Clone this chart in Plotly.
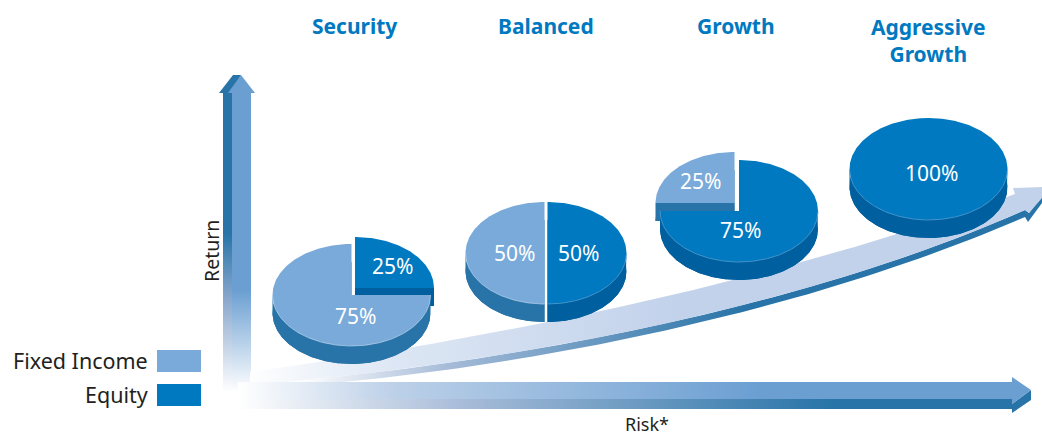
import numpy as np
import plotly.graph_objects as go

# ---- chart values ----
portfolios = ["Security", "Balanced", "Growth", "Aggressive<br>Growth"]
equity_share = [25, 50, 75, 100]
fixed_share = [75, 50, 25, 0]
series_names = ["Fixed Income", "Equity"]
axis_names = ["Risk*", "Return"]

# ---- layout (pixel-like axes) ----
W, H = 1042, 437
pie_centers = [(351.5, 295), (546, 253), (739, 211), (928.5, 169)]
title_x = [354, 546, 736, 927.5]
title_y = [26, 26, 26, 40]
RX, RY, DEPTH = 79, 51, 18
equity_offset = [(3.5, -7), (1.5, 0), (0, 0), (0, 0)]
fixed_offset = [(0, 0), (-1.5, 0), (-4.5, -8), (0, 0)]
FONT = "Noto Sans"
C_FIXED, C_FIXED_SIDE = "#7aaad9", "#2874a8"
C_EQ, C_EQ_SIDE = "#0079c1", "#005f9e"
INK = "#231f20"
BLUE_TITLE = "#0079c1"
SHAFT = "#6b9fd2"

fig = go.Figure()


def poly(xs, ys, color=None, grad=None):
    kw = dict(fillgradient=grad) if grad else dict(fillcolor=color)
    fig.add_trace(go.Scatter(x=list(xs), y=list(ys), mode="lines", fill="toself",
                             line=dict(width=0, color="rgba(0,0,0,0)"),
                             hoverinfo="skip", showlegend=False, **kw))


def ramp(kind, start, stop, stops):
    return dict(type=kind, start=start, stop=stop,
                colorscale=[[p, c] for p, c in stops])


def bez(p0, p1, p2, p3, n=80):
    t = np.linspace(0, 1, n)
    p = [np.array(q, float) for q in (p0, p1, p2, p3)]
    pts = [(1-a)**3*p[0] + 3*(1-a)**2*a*p[1] + 3*(1-a)*a*a*p[2] + a**3*p[3] for a in t]
    return np.array(pts)


# ---- Return arrow ----
fade_v_dark = [[0, "#2874a8"], [0.5, "#2874a8"], [0.72, "#8fabcf"], [1, "#ffffff"]]
fade_v = [[0, SHAFT], [0.68, SHAFT], [1, "#ffffff"]]
poly([223, 223, 219, 233, 241, 232, 232], [392, 93, 93, 75, 75, 93, 392],
     grad=ramp("vertical", 75, 392, fade_v_dark))
poly([232, 232, 228, 241, 255, 251, 251], [392, 93, 93, 75, 93, 93, 392],
     grad=ramp("vertical", 75, 392, fade_v))

# ---- Curved arrow ----
dark_low = bez((300, 386), (520, 368), (800, 315), (1025, 217))
light_top = bez((250, 372), (520, 335), (790, 277), (1015, 194))
light_low = bez((250, 385), (500, 365), (800, 310), (1025, 210))
dx = np.r_[light_low[:, 0], 1029, 1042, 1042, 1028, dark_low[::-1, 0]]
dy = np.r_[light_low[:, 1], 213, 196, 203, 222, dark_low[::-1, 1]]
poly(dx, dy, grad=ramp("horizontal", 300, 1040,
     [[0, "#ffffff"], [0.2, "#a6bbd8"], [0.6, "#2874a8"], [1, "#2874a8"]]))
tx = np.r_[light_top[:, 0], 1013, 1042, 1042, 1029, light_low[::-1, 0]]
ty = np.r_[light_top[:, 1], 188, 187, 198, 213, light_low[::-1, 1]]
poly(tx, ty, grad=ramp("horizontal", 245, 680,
     [[0, "#ffffff"], [0.35, "#dce6f4"], [1, "#c2d2eb"]]))

# ---- Risk arrow ----
poly([238, 1012, 1012, 1031, 1031, 1012, 1012, 238],
     [399, 399, 404, 390, 400, 413, 409, 409],
     grad=ramp("horizontal", 238, 1000,
               [[0, "#ffffff"], [0.3, "#a6bbd8"], [0.78, "#2874a8"], [1, "#2874a8"]]))
poly([238, 1012, 1012, 1031, 1012, 1012, 238],
     [382, 382, 377, 390, 404, 399, 399],
     grad=ramp("horizontal", 238, 760,
               [[0, "#ffffff"], [0.3, "#bcd0e8"], [1, SHAFT]]))


# ---- pies ----
def wedge_pts(cx, cy, a_start, sweep, closed=True):
    """Clockwise wedge beginning at a_start degrees (12 o'clock = 90)."""
    n = max(2, int(abs(sweep)) + 1)
    a = np.radians(a_start - np.linspace(0, sweep, n))
    x, y = cx + RX*np.cos(a), cy - RY*np.sin(a)
    if closed and sweep < 360:
        return np.r_[cx, x, cx], np.r_[cy, y, cy]
    return x, y


def rim_angles(a_start, sweep):
    a = np.mod(a_start - np.linspace(0, sweep, max(2, int(sweep) + 1)), 360)
    a[a == 0] = 360
    return np.sort(a[a >= 180])


def wedge_side(cx, cy, a_start, sweep, color):
    x, y = wedge_pts(cx, cy, a_start, sweep)
    poly(x, y + DEPTH, color)
    r = np.radians(rim_angles(a_start, sweep))
    if r.size > 1:
        rx, ry = cx + RX*np.cos(r), cy - RY*np.sin(r)
        poly(np.r_[rx, rx[::-1]], np.r_[ry, ry[::-1] + DEPTH], color)
    for edge in (a_start, a_start - sweep):
        if sweep < 360 and np.mod(edge, 180) == 0:
            ex = cx + RX*np.cos(np.radians(edge))
            poly([cx, ex, ex, cx], [cy, cy, cy + DEPTH, cy + DEPTH], color)


def wedge_rim(cx, cy, a_start, sweep, color):
    r = np.radians(rim_angles(a_start, sweep))
    if r.size > 1:
        fig.add_trace(go.Scatter(x=cx + RX*np.cos(r), y=cy - RY*np.sin(r), mode="lines",
                                 line=dict(width=0.7, color=color), hoverinfo="skip",
                                 showlegend=False))


for (cx, cy), eq, fi, eo, fo in zip(pie_centers, equity_share, fixed_share,
                                    equity_offset, fixed_offset):
    eq_sw, fi_sw = eq*3.6, fi*3.6
    ex, ey = cx + eo[0], cy + eo[1]
    fx, fy = cx + fo[0], cy + fo[1]
    parts = [(ex, ey, 90, eq_sw, C_EQ, C_EQ_SIDE, "#5fa4d6"),
             (fx, fy, 90 - eq_sw, fi_sw, C_FIXED, C_FIXED_SIDE, "#bdd4ec")]
    if eq > fi:
        parts.reverse()
    for x0, y0, st, sw, col, side, rim in parts:
        if sw <= 0:
            continue
        wedge_side(x0, y0, st, sw, side)
        px, py = wedge_pts(x0, y0, st, sw)
        poly(px, py, col)
        wedge_rim(x0, y0, st, sw, rim)

# ---- legend swatches ----
shapes = [dict(type="rect", x0=157, x1=201, y0=350, y1=372, fillcolor=C_FIXED, line_width=0),
          dict(type="rect", x0=157, x1=201, y0=384, y1=406, fillcolor=C_EQ, line_width=0)]

# ---- text ----
ann = []


def text(x, y, s, size, color, bold=False, anchor="center", angle=0):
    ann.append(dict(x=x, y=y, text=f"<b>{s}</b>" if bold else s, showarrow=False,
                    xanchor=anchor, yanchor="middle", textangle=angle, align="center",
                    font=dict(family=FONT, size=size, color=color)))


for x, y, s in zip(title_x, title_y, portfolios):
    text(x, y, s, 21, BLUE_TITLE, bold=True)
label_pos = [[(392, 266), (355, 316)], [(578, 253), (514, 253)],
             [(740, 230), (700, 181)], [(932, 173), None]]
for pos, eq, fi in zip(label_pos, equity_share, fixed_share):
    text(*pos[0], f"{eq}%", 21, "#ffffff")
    if fi:
        text(*pos[1], f"{fi}%", 21, "#ffffff")
text(150, 360, series_names[0], 21.5, INK, anchor="right")
text(150, 394, series_names[1], 21.5, INK, anchor="right")
text(647, 423.5, axis_names[0], 18, INK)
text(211, 251, axis_names[1], 19.5, INK, angle=-90)

fig.update_layout(width=W, height=H, margin=dict(l=0, r=0, t=0, b=0),
                  paper_bgcolor="white", plot_bgcolor="white", shapes=shapes, annotations=ann,
                  xaxis=dict(range=[0, W], visible=False, fixedrange=True),
                  yaxis=dict(range=[H, 0], visible=False, fixedrange=True))
fig.write_html("out.html", config=dict(displayModeBar=False),
               post_script="document.body.style.margin='0';document.body.style.overflow='hidden';")
